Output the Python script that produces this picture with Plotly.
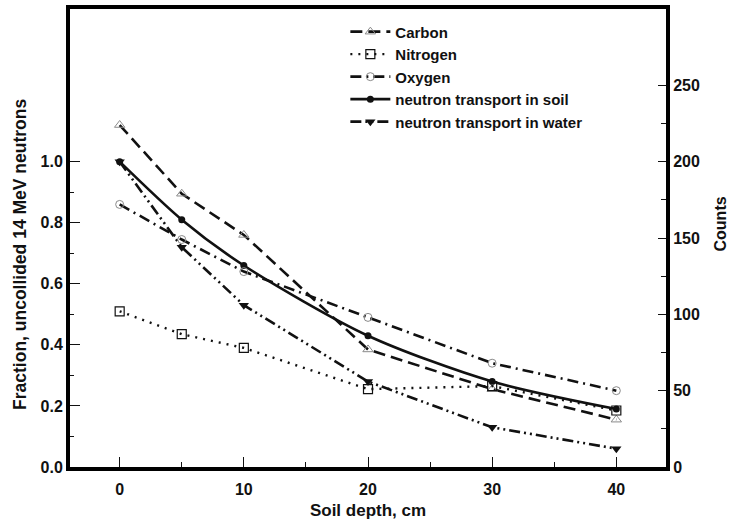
import plotly.graph_objects as go

# Soil depth (cm) at which each measurement was taken
depth_cm = [0, 5, 10, 20, 30, 40]

# Element counts (right axis)
carbon_counts = [224, 179, 152, 77, 51, 31]
nitrogen_counts = [102, 87, 78, 51, 53, 37]
oxygen_counts = [172, 149, 128, 98, 68, 50]

# Fraction of uncollided 14 MeV neutrons (left axis)
soil_fraction = [1.0, 0.81, 0.66, 0.43, 0.28, 0.19]
water_fraction = [1.0, 0.72, 0.53, 0.28, 0.13, 0.06]

left_ticks = [0.0, 0.2, 0.4, 0.6, 0.8, 1.0]
left_minor = [0.1, 0.3, 0.5, 0.7, 0.9]
right_ticks = [0, 50, 100, 150, 200, 250]
right_minor = [25, 75, 125, 175, 225]
x_ticks = [0, 10, 20, 30, 40]
x_minor = [5, 15, 25, 35]

INK = "#111111"
GREY = "#8a8a8a"
FAMILY = "Liberation Sans, Arial, sans-serif"

fig = go.Figure()

fig.add_trace(go.Scatter(
    x=depth_cm, y=carbon_counts, name="Carbon", yaxis="y2", mode="lines+markers",
    line=dict(color=INK, width=2.6, dash="12px,6px"),
    marker=dict(symbol="triangle-up-open", size=9, color=GREY, line=dict(width=1, color=GREY)),
))
fig.add_trace(go.Scatter(
    x=depth_cm, y=nitrogen_counts, name="Nitrogen", yaxis="y2", mode="lines+markers",
    line=dict(color=INK, width=2.4, dash="2px,6px"),
    marker=dict(symbol="square-open", size=9, color=INK, line=dict(width=1.2, color=INK)),
))
fig.add_trace(go.Scatter(
    x=depth_cm, y=oxygen_counts, name="Oxygen", yaxis="y2", mode="lines+markers",
    line=dict(color=INK, width=2.6, dash="11px,5px,2px,5px"),
    marker=dict(symbol="circle-open", size=8, color=GREY, line=dict(width=1, color=GREY)),
))
fig.add_trace(go.Scatter(
    x=depth_cm, y=soil_fraction, name="neutron transport in soil", mode="lines+markers",
    line=dict(color=INK, width=2.6, shape="spline", smoothing=0.8),
    marker=dict(symbol="circle", size=7, color=INK),
))
fig.add_trace(go.Scatter(
    x=depth_cm, y=water_fraction, name="neutron transport in water", mode="lines+markers",
    line=dict(color=INK, width=2.6, dash="11px,4px,2px,4px,2px,4px"),
    marker=dict(symbol="triangle-down", size=9, color=INK),
))

font_main = dict(family=FAMILY, size=16, color=INK, weight="bold")

fig.update_layout(
    width=734, height=527,
    margin=dict(l=70, r=68, t=5, b=60),
    paper_bgcolor="white", plot_bgcolor="white",
    font=font_main,
    showlegend=True,
    legend=dict(
        x=0.462, y=0.986, xanchor="left", yanchor="top",
        bgcolor="rgba(0,0,0,0)", borderwidth=0,
        font=dict(family=FAMILY, size=15, color=INK, weight="bold"),
        itemwidth=40, tracegroupgap=0,
    ),
    xaxis=dict(
        range=[-4, 44], tickvals=x_ticks, ticktext=[str(v) for v in x_ticks],
        ticks="inside", ticklen=10, tickwidth=1.3, tickcolor=INK,
        minor=dict(tickvals=x_minor, ticks="inside", ticklen=5, tickwidth=1.3, tickcolor=INK),
        showline=True, linewidth=4, linecolor="black", mirror=True,
        showgrid=False, zeroline=False,
        ticklabelstandoff=5,
        title=dict(text="Soil depth, cm", font=dict(size=17), standoff=8),
    ),
    yaxis=dict(
        range=[0, 1.5], tickvals=left_ticks, ticktext=[f"{v:.1f}" for v in left_ticks],
        ticks="inside", ticklen=10, tickwidth=1.3, tickcolor=INK,
        minor=dict(tickvals=left_minor, ticks="inside", ticklen=4, tickwidth=1.3, tickcolor=INK),
        showline=True, linewidth=4, linecolor="black",
        showgrid=False, zeroline=False,
    ),
    yaxis2=dict(
        range=[0, 300], overlaying="y", side="right",
        tickvals=right_ticks, ticktext=[str(v) for v in right_ticks],
        ticks="inside", ticklen=8, tickwidth=1.3, tickcolor=INK,
        minor=dict(tickvals=right_minor, ticks="inside", ticklen=5, tickwidth=1.3, tickcolor=INK),
        showline=True, linewidth=4, linecolor="black",
        showgrid=False, zeroline=False,
    ),
    annotations=[
        dict(text="Fraction, uncollided 14 MeV neutrons", textangle=-90,
             xref="paper", yref="paper", x=-0.084, y=0.465,
             xanchor="center", yanchor="middle", showarrow=False,
             font=dict(family=FAMILY, size=17.5, color=INK, weight="bold")),
        dict(text="Counts", textangle=-90,
             xref="paper", yref="paper", x=1.091, y=0.53,
             xanchor="center", yanchor="middle", showarrow=False,
             font=dict(family=FAMILY, size=16, color=INK, weight="bold")),
    ],
)

fig.write_html("out.html")
